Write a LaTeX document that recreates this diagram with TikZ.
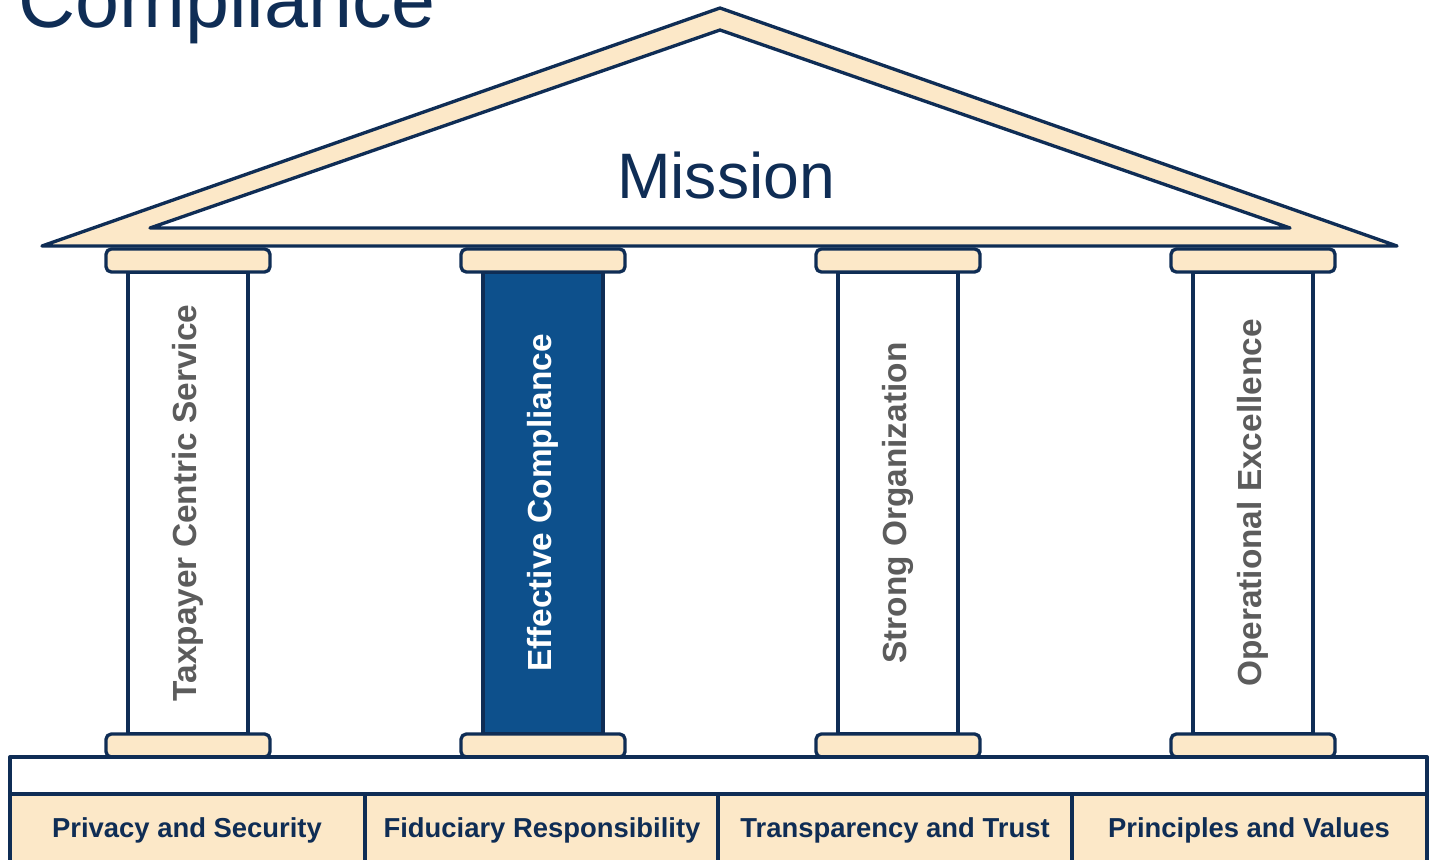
\documentclass[tikz,border=0pt]{standalone}
\usepackage{fontspec}
\setmainfont{Liberation Sans}
\definecolor{navy}{HTML}{0F2D55}
\definecolor{sand}{HTML}{FCE8C8}
\definecolor{pillarblue}{HTML}{0D508C}
\definecolor{stone}{HTML}{5C5C5C}
\tikzset{
  part/.style={draw=navy, line width=1.9pt, line join=round},
  capital/.style={part, fill=sand, rounded corners=3pt},
  pillarlabel/.style={rotate=90, font=\bfseries\fontsize{19}{19}\selectfont},
  baselabel/.style={font=\bfseries\fontsize{15.6}{16}\selectfont, text=navy}
}

\begin{document}
\begin{tikzpicture}[x=0.02cm, y=-0.02cm]
    \useasboundingbox (0,0) rectangle (1429,859);
    % title, cut off by the top edge
    \node[anchor=base west, inner sep=0pt, text=navy, font=\fontsize{45}{45}\selectfont] (title) at (18,27) {Compliance};
    % roof
    \filldraw[part, fill=sand] (42,246) -- (720,8) -- (1397,246) -- cycle;
    \filldraw[part, fill=white] (150,228) -- (720,30) -- (1290,228) -- cycle;
    \node[anchor=base, inner sep=0pt, text=navy, font=\fontsize{36.6}{36}\selectfont] (mission) at (726,198) {Mission};
    % pillars
    \foreach \x/\shaft/\ink/\lbl [count=\i] in {188/white/stone/Taxpayer Centric Service, 543/pillarblue/white/Effective Compliance, 898/white/stone/Strong Organization, 1253/white/stone/Operational Excellence}
    {
      \filldraw[part, fill=\shaft] (\x-60,272) rectangle (\x+60,734);
      \filldraw[capital] (\x-82,249) rectangle (\x+82,272);
      \filldraw[capital] (\x-82,734) rectangle (\x+82,757);
      \node[pillarlabel, text=\ink] (pillar\i) at (\x,503) {\lbl};
    }
    % base
    \filldraw[part, fill=white] (10,757) rectangle (1427,794);
    \foreach \x/\lbl [count=\i] in {10/Privacy and Security, 365/Fiduciary Responsibility, 718/Transparency and Trust, 1072/Principles and Values}
    {
      \filldraw[part, fill=sand] (\x,794) rectangle ++(355,80);
      \node[baselabel] (base\i) at (\x+177,830) {\lbl};
    }
\end{tikzpicture}
\end{document}
